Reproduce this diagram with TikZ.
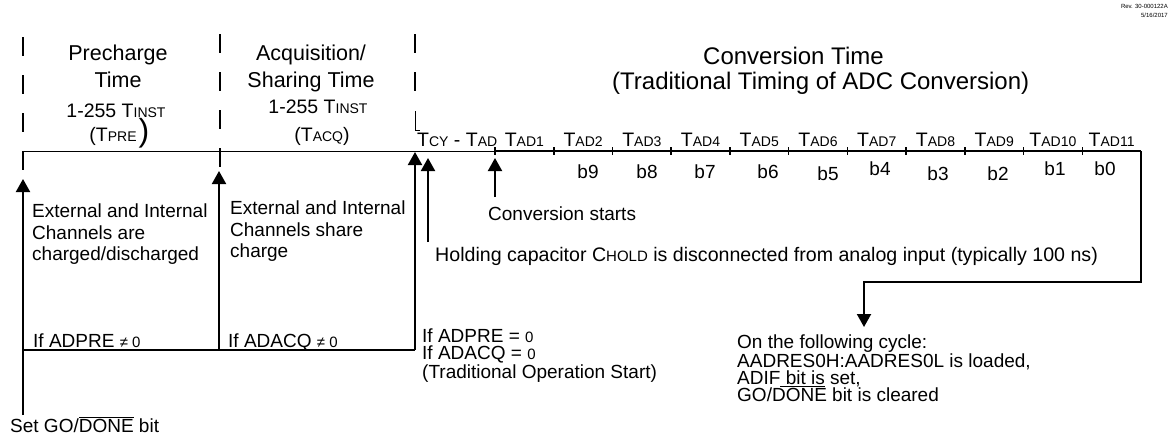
\documentclass[tikz,border=0pt]{standalone}
\usepackage{fontspec}
\setmainfont{Liberation Sans}
\usetikzlibrary{arrows.meta}
\newcommand{\smc}[1]{{\fontsize{14}{14}\selectfont #1}}
\newcommand{\smcb}[1]{{\fontsize{15}{15}\selectfont #1}}
\newcommand{\lz}[1]{{\fontsize{15}{15}\selectfont #1}}
\begin{document}
\begin{tikzpicture}[x=1pt,y=-1pt,
  body/.style={font=\fontsize{19}{21.5}\selectfont, inner sep=0pt, align=left},
  bodyb/.style={font=\fontsize{19}{17}\selectfont, inner sep=0pt, align=left},
  hdr/.style={font=\fontsize{21.5}{27}\selectfont, inner sep=0pt},
  hdrc/.style={font=\fontsize{24}{24}\selectfont, inner sep=0pt},
  sub/.style={font=\fontsize{19.5}{21}\selectfont, inner sep=0pt},
  arr/.style={line width=2pt, -{Triangle[length=13pt,width=14pt]}},
  dline/.style={line width=2pt, dash pattern=on 19pt off 19pt},
  thinl/.style={line width=1pt},
  thickl/.style={line width=2pt},
  tickl/.style={line width=1.6pt},
  tiny/.style={font=\fontsize{6}{7}\selectfont, inner sep=0pt}]
\useasboundingbox (0,0) rectangle (1170,442);

% revision
\node[tiny, anchor=base east] (rev1) at (1168,8) {Rev. 30-000122A};
\node[tiny, anchor=base east] (rev2) at (1168,17) {5/16/2017};

% headers
\node[hdr, anchor=base] (pre1) at (118,60) {Precharge};
\node[hdr, anchor=base] (pre2) at (118,87) {Time};
\node[sub, anchor=base] (pre3) at (116,117) {1-255 T\smc{INST}};
\node[sub, anchor=base] (pre4) at (113,141) {(T\smc{PRE}};
\node[font=\fontsize{32}{32}\selectfont, inner sep=0pt, anchor=base] (pre5) at (144,141) {)};
\node[hdr, anchor=base] (acq1) at (311,60) {Acquisition/};
\node[hdr, anchor=base] (acq2) at (311,87) {Sharing Time};
\node[sub, anchor=base] (acq3) at (318,113) {1-255 T\smc{INST}};
\node[sub, anchor=base] (acq4) at (322,141) {(T\smc{ACQ})};
\node[hdrc, anchor=base west] (cv1) at (703,64) {Conversion Time};
\node[hdrc, anchor=base west] (cv2) at (612,89) {(Traditional Timing of ADC Conversion)};

% dashed separators
\coordinate (d1a) at (23,37);  \coordinate (d1b) at (23,172);
\coordinate (d2a) at (220,34); \coordinate (d2b) at (220,168);
\coordinate (d3a) at (415,34); \coordinate (d3b) at (415,91);
\draw[dline] (d1a) -- (d1b);
\draw[dline] (d2a) -- (d2b);
\draw[dline] (d3a) -- (d3b);
\coordinate (k1) at (415,111); \coordinate (k2) at (415,130); \coordinate (k3) at (420,130);
\draw[thinl] (k1) -- (k2) -- (k3);

% timeline
\coordinate (t0) at (23,151);
\coordinate (tc) at (495,151);
\coordinate (te) at (1141,151);
\draw[thinl] (t0) -- (tc);
\draw[thickl] (tc) -- (te);
\foreach \i in {0,...,10} {
  \draw[tickl] ({495+\i*58.73},147) -- ({495+\i*58.73},155);
}
\node[sub, anchor=base west] (tcy) at (417,146) {T\smc{CY} - T\smc{AD}};
\foreach \i in {1,...,11} {
  \node[sub, anchor=base] (tad\i) at ({495+(\i-0.5)*58.73},146) {T\smc{AD\i}};
}
\foreach \n/\x/\y in {9/588/178, 8/647/178, 7/705/178, 6/768/178, 5/828/180, 4/880/175, 3/938/180, 2/998/180, 1/1055/175, 0/1105/175} {
  \node[body, anchor=base] (b\n) at (\x,\y) {b\n};
}

% end of conversion connector
\coordinate (r1) at (1141,282);
\coordinate (r2) at (864,282);
\coordinate (r3) at (864,327);
\draw[arr] (te) -- (r1) -- (r2) -- (r3);

% left structure
\coordinate (a1b) at (23,415); \coordinate (a1t) at (23,179);
\coordinate (h1) at (23,350); \coordinate (h2) at (219,350); \coordinate (h3) at (415,350);
\coordinate (a2t) at (219,171);
\coordinate (a3t) at (415,152);
\coordinate (a4b) at (428,242); \coordinate (a4t) at (428,158);
\coordinate (a5b) at (495,197); \coordinate (a5t) at (495,158);
\draw[arr] (a1b) -- (a1t);
\draw[thickl] (h1) -- (h3);
\draw[arr] (h2) -- (a2t);
\draw[arr] (h3) -- (a3t);
\draw[arr] (a4b) -- (a4t);
\draw[arr] (a5b) -- (a5t);

% texts
\node[body, anchor=north west] (ext1) at (32,204) {External and Internal\\Channels are\\charged/discharged};
\node[body, anchor=north west] (ext2) at (230,201) {External and Internal\\Channels share\\charge};
\node[body, anchor=base west] (ifp) at (33,347) {If ADPRE \lz{≠ 0}};
\node[body, anchor=base west] (ifa) at (228,347) {If ADACQ \lz{≠ 0}};
\node[bodyb, anchor=north west] (trad) at (422,329) {If ADPRE = \lz{0}\\If ADACQ = \lz{0}\\(Traditional Operation Start)};
\node[body, anchor=base west] (cst) at (488,220) {Conversion starts};
\node[font=\fontsize{19.6}{21}\selectfont, inner sep=0pt, anchor=base west] (hold) at (435,261) {Holding capacitor C\smcb{HOLD} is disconnected from analog input (typically 100 ns)};
\node[font=\fontsize{19}{16.8}\selectfont, inner sep=0pt, align=left, anchor=north west] (fol) at (737,335) {On the following cycle:\\AADRES0H:AADRES0L is loaded,\\ADIF\underline{\ bit is} set,\\GO/DONE bit is cleared};
\node[body, anchor=base west] (setgo) at (10,432) {Set GO/$\overline{\hbox{DONE}}$ bit};
\end{tikzpicture}
\end{document}
